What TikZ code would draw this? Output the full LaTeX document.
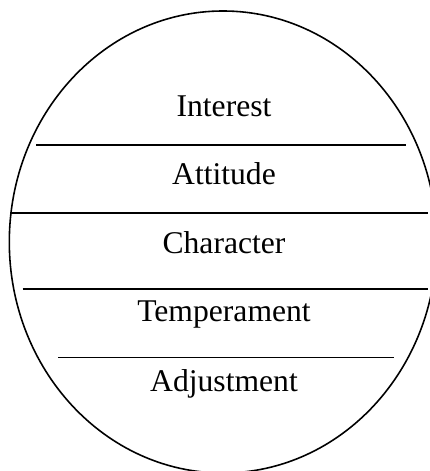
\documentclass[tikz,border=0pt]{standalone}
\usepackage{fontspec}
\setmainfont{Liberation Serif}
\usepackage{tikz}
\usetikzlibrary{positioning}
\tikzset{
  layer/.style={anchor=base,font=\fontsize{18}{21}\selectfont,inner sep=0pt},
  divider/.style={line width=1pt}
}

\begin{document}
\begin{tikzpicture}[x=1cm,y=1cm]
			\useasboundingbox (0,0) rectangle (8.58,9.42);
			
			\draw[line width=0.9pt] (4.46,4.58) ellipse (4.274 and 4.62);
			
			\node[layer] (interest) at (4.48,7.08) {Interest};
			\draw[divider] (0.72,6.52) -- (8.12,6.52);
			
			\node[layer] (attitude) at (4.48,5.72) {Attitude};
			\draw[divider] (0.2,5.16) -- (8.56,5.16);
			
			\node[layer] (character) at (4.48,4.34) {Character};
			\draw[divider] (0.454,3.64) -- (8.56,3.64);
			
			\node[layer] (temperament) at (4.48,2.98) {Temperament};
			\draw[divider] (1.16,2.27) -- (7.88,2.27);
			
			\node[layer] (adjustment) at (4.48,1.58) {Adjustment};
			
		\end{tikzpicture}
\end{document}
